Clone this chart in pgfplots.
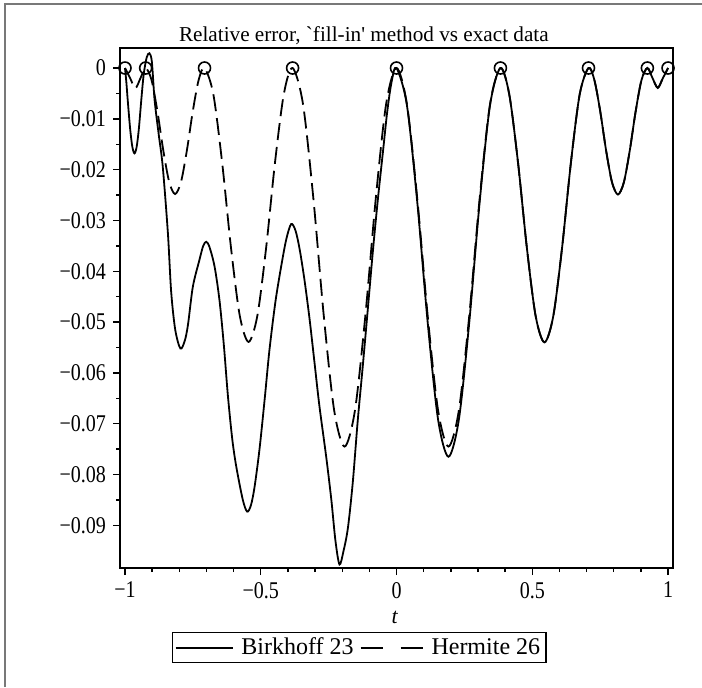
\documentclass[border=0pt]{standalone}
\usepackage{fontspec}
\setmainfont{Liberation Serif}[Ligatures=TeXOff]
\usepackage{graphicx}
\usepackage{pgfplots}
\pgfplotsset{compat=1.18}
\definecolor{framegray}{RGB}{120,120,120}
\pgfplotsset{
  solidleg/.style={legend image code/.code={\draw[##1] (0pt,0pt) -- (28.5pt,0pt);}},
  dashleg/.style={legend image code/.code={\draw[##1, dash pattern=on 11pt off 9pt] (0pt,0pt) -- (31pt,0pt);}},
}
% tick labels: real minus sign, a little taller like the original
\newcommand{\signnum}[2]{%
  \pgfmathparse{abs(#1)}\let\absv\pgfmathresult
  \scalebox{1}[1.2]{\ifdim #1pt<-0.00001pt −\fi\pgfmathprintnumber[fixed,precision=#2,assume math mode=true]{\absv}}}

\begin{document}
\begin{tikzpicture}
\begin{axis}[
  scale only axis,
  width=276.5pt, height=260pt,
  xmin=-1.0184, xmax=1.0184,
  ymin=-0.0984, ymax=0.00394,
  clip=false,
  axis line style={line width=0.8pt},
  tick align=outside,
  xtick pos=bottom, ytick pos=left,
  xtick={-1,-0.5,0,0.5,1},
  minor x tick num=4,
  ytick={-0.09,-0.08,-0.07,-0.06,-0.05,-0.04,-0.03,-0.02,-0.01,0},
  minor y tick num=1,
  major tick length=3.5pt, minor tick length=2pt,
  every tick/.style={black, line width=0.7pt},
  scaled y ticks=false, scaled x ticks=false,
  xticklabel={\signnum{\tick}{1}},
  yticklabel={\signnum{\tick}{2}},
  tick label style={font=\fontsize{10}{12}\selectfont},
  title={Relative error, `fill-in' method vs exact data},
  every axis title shift=0pt,
  title style={at={(0.441,1.012)}, anchor=base, font=\fontsize{10.6}{12}\selectfont},
  xlabel={\textit{t}},
  xlabel style={at={(0.497,-0.095)}, anchor=center, font=\fontsize{11}{13}\selectfont},
  legend columns=2,
  legend style={at={(0.094,-0.123)}, anchor=north west, draw=black, line width=0.7pt,
    inner xsep=1pt, inner ysep=0.5pt, font=\fontsize{12}{14}\selectfont,
    nodes={inner xsep=2pt, inner ysep=2pt}, column sep=0pt,
    /tikz/every odd column/.append style={column sep=2pt},
    /tikz/every even column/.append style={column sep=1pt},
    cells={anchor=west}},
]
\addplot[black, line width=0.9pt, smooth, solidleg]
coordinates {
(-1,0) (-0.995,-0.0028) (-0.990,-0.0063) (-0.981,-0.0120) (-0.973,-0.0155)
(-0.965,-0.0168) (-0.957,-0.0155) (-0.949,-0.0120) (-0.940,-0.0063)
(-0.931,-0.0012) (-0.920,0.0021) (-0.910,0.0029) (-0.901,0.0012)
(-0.891,-0.0063) (-0.876,-0.0130) (-0.861,-0.0194) (-0.842,-0.0325)
(-0.830,-0.0440) (-0.815,-0.0515) (-0.796,-0.0552) (-0.780,-0.0537)
(-0.768,-0.0505) (-0.750,-0.0430) (-0.726,-0.0378) (-0.712,-0.0350)
(-0.701,-0.0342) (-0.689,-0.0352) (-0.670,-0.0391) (-0.652,-0.0457)
(-0.636,-0.0545) (-0.621,-0.0645) (-0.605,-0.0730) (-0.590,-0.0785)
(-0.566,-0.0850) (-0.550,-0.0873) (-0.536,-0.0860) (-0.523,-0.0825)
(-0.505,-0.0752) (-0.486,-0.0654) (-0.468,-0.0555) (-0.446,-0.0460)
(-0.425,-0.0391) (-0.406,-0.0337) (-0.388,-0.0307) (-0.372,-0.0320)
(-0.357,-0.0356) (-0.339,-0.0417) (-0.320,-0.0495) (-0.302,-0.0580)
(-0.284,-0.0665) (-0.259,-0.0765) (-0.240,-0.0850) (-0.225,-0.0930)
(-0.210,-0.0977) (-0.195,-0.0950) (-0.179,-0.0905) (-0.161,-0.0815)
(-0.143,-0.0695) (-0.124,-0.0585) (-0.105,-0.0470) (-0.087,-0.0360)
(-0.069,-0.0260) (-0.050,-0.0165) (-0.034,-0.0085) (-0.018,-0.0027)
(0,0) (0.0383,-0.00731) (0.0765,-0.02643) (0.1148,-0.05007) (0.1531,-0.06919)
(0.1913,-0.0765) (0.2296,-0.06919) (0.2679,-0.05007) (0.3061,-0.02643)
(0.3444,-0.00731) (0.3827,0)
(0.4151,-0.00516) (0.4476,-0.01866) (0.4800,-0.03534) (0.5125,-0.04884)
(0.5449,-0.054) (0.5773,-0.04884) (0.6098,-0.03534) (0.6422,-0.01866)
(0.6747,-0.00516) (0.7071,0)
(0.7288,-0.00238) (0.7505,-0.0086) (0.7721,-0.0163) (0.7938,-0.02252)
(0.8155,-0.0249) (0.8372,-0.02252) (0.8589,-0.0163) (0.8805,-0.0086)
(0.9022,-0.00238) (0.9239,0)
(0.943,-0.002) (0.962,-0.0039) (0.981,-0.002) (1,0)
};
\addlegendentry{Birkhoff 23}
\addplot[black, line width=0.9pt, smooth, dash pattern=on 8.5pt off 3.5pt, dashleg]
coordinates {
(-1,0) (-0.981,-0.002) (-0.962,-0.004) (-0.943,-0.002) (-0.9239,0)
(-0.9022,-0.00237) (-0.8805,-0.00857) (-0.8589,-0.01623) (-0.8372,-0.02243)
(-0.8155,-0.0248) (-0.7938,-0.02243) (-0.7721,-0.01623) (-0.7505,-0.00857)
(-0.7288,-0.00237) (-0.7071,0)
(-0.6747,-0.00515) (-0.6422,-0.01862) (-0.6098,-0.03528) (-0.5773,-0.04875)
(-0.5449,-0.0539) (-0.5125,-0.04875) (-0.4800,-0.03528) (-0.4476,-0.01862)
(-0.4151,-0.00515) (-0.3827,0)
(-0.3444,-0.00711) (-0.3061,-0.02574) (-0.2679,-0.04876) (-0.2296,-0.06739)
(-0.1913,-0.0745) (-0.1531,-0.06739) (-0.1148,-0.04876) (-0.0765,-0.02574)
(-0.0383,-0.00711) (0,0)
(0.0383,-0.00711) (0.0765,-0.02574) (0.1148,-0.04876) (0.1531,-0.06739)
(0.1913,-0.0745) (0.2296,-0.06739) (0.2679,-0.04876) (0.3061,-0.02574)
(0.3444,-0.00711) (0.3827,0)
(0.4151,-0.00516) (0.4476,-0.01866) (0.4800,-0.03534) (0.5125,-0.04884)
(0.5449,-0.054) (0.5773,-0.04884) (0.6098,-0.03534) (0.6422,-0.01866)
(0.6747,-0.00516) (0.7071,0)
(0.7288,-0.00238) (0.7505,-0.0086) (0.7721,-0.0163) (0.7938,-0.02252)
(0.8155,-0.0249) (0.8372,-0.02252) (0.8589,-0.0163) (0.8805,-0.0086)
(0.9022,-0.00238) (0.9239,0)
(0.943,-0.002) (0.962,-0.0039) (0.981,-0.002) (1,0)
};
\addlegendentry{Hermite 26}
\addplot[black, only marks, mark=o, mark size=3pt, line width=0.8pt, forget plot]
coordinates {(-1,0) (-0.9239,0) (-0.7071,0) (-0.3827,0) (0,0)
  (0.3827,0) (0.7071,0) (0.9239,0) (1,0)};
% outer frame of the original window, and the page size
\draw[framegray, line width=1pt]
  (rel axis cs:-0.208,-0.2288) -- (rel axis cs:-0.208,1.0846) -- (rel axis cs:1.0524,1.0846);
\coordinate (bbsw) at (rel axis cs:-0.217,-0.2288);
\coordinate (bbne) at (rel axis cs:1.0524,1.0923);
\end{axis}
\pgfresetboundingbox
\path[use as bounding box] (bbsw) rectangle (bbne);
\end{tikzpicture}
\end{document}
